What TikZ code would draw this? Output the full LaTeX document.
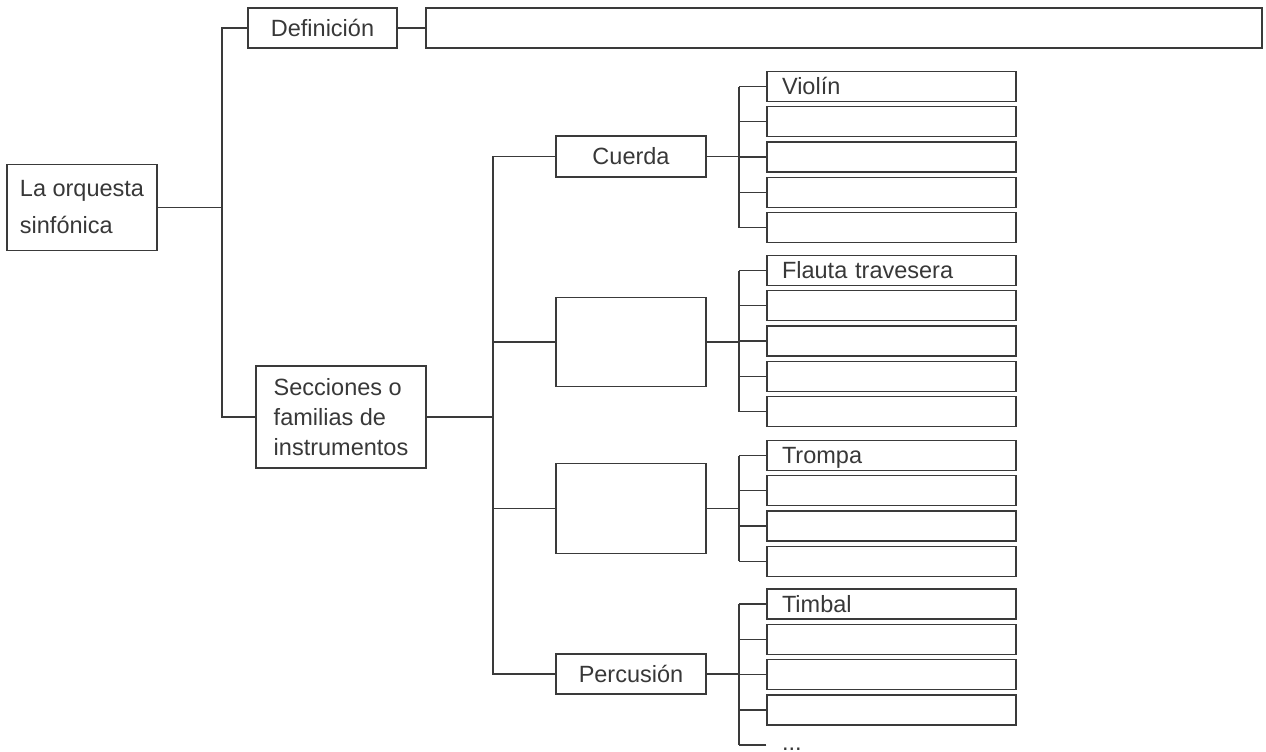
\documentclass[tikz,border=0pt]{standalone}
\usepackage{fontspec}
\setmainfont{Liberation Sans}
\usepackage{tikz}

\definecolor{linegray}{HTML}{3A3A3A}
\definecolor{textgray}{HTML}{383838}

\begin{document}
\begin{tikzpicture}[x=1pt, y=-1pt,
            every node/.style={font=\fontsize{23.5}{28}\selectfont, text=textgray}, % text of all boxes
            box/.style={draw=linegray, line width=1.3pt, inner sep=0pt}, % plain frame
            leaf/.style={box, minimum width=249pt, minimum height=30pt, text width=219pt, inner xsep=15pt, text height=23pt, text depth=7pt, align=left}, % instrument lines
            conn/.style={draw=linegray, line width=1.3pt} % elbow connectors
            ]

        \useasboundingbox (0,0) rectangle (1266,752);

        % bus lines
        \coordinate (rbus) at (222,0);
        \coordinate (mbus) at (493,0);
        \coordinate (lbus) at (739,0);

        % left part
        \node[box, minimum width=150pt, minimum height=86pt, align=left, font=\fontsize{23.5}{37}\selectfont] (root) at (82,207.5) {La orquesta\\sinfónica};
        \node[box, minimum width=149pt, minimum height=40pt] (def) at (322.5,28) {Definición};
        \node[box, minimum width=836pt, minimum height=40pt] (defbox) at (844,28) {};
        \node[box, minimum width=170pt, minimum height=102pt, align=left, font=\fontsize{23.5}{30}\selectfont] (sec) at (341,417) {Secciones o\\familias de\\instrumentos};

        % families
        \node[box, minimum width=150pt, minimum height=41pt] (cu) at (631,156.5) {Cuerda};
        \node[box, minimum width=150pt, minimum height=89pt] (ma) at (631,342) {};
        \node[box, minimum width=150pt, minimum height=90pt] (me) at (631,508.5) {};
        \node[box, minimum width=150pt, minimum height=40pt] (pe) at (631,674) {Percusión};

        % instruments
        \foreach \g/\y/\n/\lab in {cu/86.5/5/Violín, ma/270.5/5/Flauta travesera, me/455.5/4/Trompa, pe/604/4/Timbal} {
            \foreach \k in {1,...,\n} {
                \node[leaf] (\g\k) at (891.5,{\y+35.3*(\k-1)}) {\ifnum\k=1 \lab\fi};
            }
        }
        \node[leaf, draw=none, minimum height=10pt, text height=10pt, text depth=0pt] (pe5) at (891.5,745) {...};

        % connectors
        \draw[conn] (root.east) -- (root.east -| rbus);
        \draw[conn] (def.west) -- (def.west -| rbus) -- (sec.west -| rbus) -- (sec.west);
        \draw[conn] (def.east) -- (defbox.west);
        \draw[conn] (sec.east) -- (sec.east -| mbus);
        \draw[conn] (cu.west) -- (cu.west -| mbus) -- (pe.west -| mbus) -- (pe.west);
        \draw[conn] (ma.west) -- (ma.west -| mbus);
        \draw[conn] (me.west) -- (me.west -| mbus);
        \foreach \g/\n in {cu/5, ma/5, me/4, pe/5} {
            \draw[conn] (\g.east) -- (\g.east -| lbus);
            \draw[conn] (\g1.west -| lbus) -- (\g\n.west -| lbus);
            \foreach \k in {1,...,\n} {
                \draw[conn] (\g\k.west) -- (\g\k.west -| lbus);
            }
        }

\end{tikzpicture}
\end{document}
